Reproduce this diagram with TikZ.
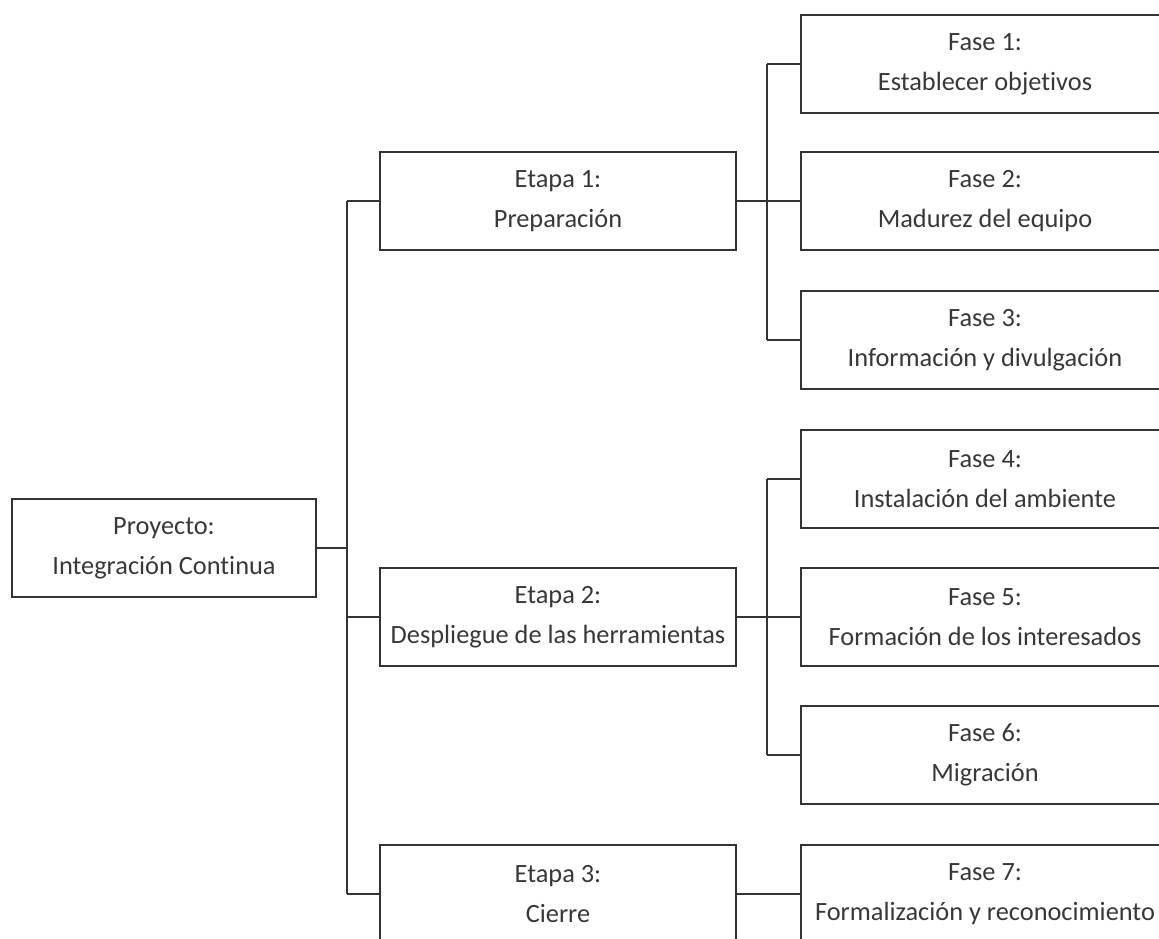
\documentclass[tikz,border=0pt]{standalone}
\usepackage{fontspec}
\setmainfont[Ligatures=NoCommon]{Carlito}
\usepackage{tikz}
\usetikzlibrary{positioning}

\begin{document}
\begin{tikzpicture}[%スタイル
          x=0.02cm,y=-0.02cm,
          caja/.style={
              draw=black!80,
              line width=1.1pt,
              fill=white,
              align=center,
              inner sep=0pt,
              minimum height=1.96cm,
              text=black!78,
              font=\fontsize{15}{22.7}\selectfont
            },proy/.style={
              caja,
              minimum width=6.08cm
            },etapa/.style={
              caja,
              minimum width=7.12cm
            },fase/.style={
              caja,
              minimum width=7.36cm
            },linea/.style={
              draw=black!80,
              line width=1.1pt
            }
        ]

        % 描画範囲
        \clip (0,0) rectangle (1159,938);

        % 座標の定義
        \coordinate (tronco) at (347,0);
        \coordinate (rama1) at (767,0);
        \coordinate (rama2) at (767,0);

        % プロジェクト
        \node[proy] (proyecto) at (164,548) {Proyecto:\\Integración Continua};

        % 段階
        \node[etapa] (etapa1) at (558,201) {Etapa 1:\\Preparación};
        \node[etapa] (etapa2) at (558,617) {Etapa 2:\\Despliegue de las herramientas};
        \node[etapa] (etapa3) at (558,894) {Etapa 3:\\Cierre};

        % 局面
        \node[fase] (fase1) at (985,64) {Fase 1:\\Establecer objetivos};
        \node[fase] (fase2) at (985,201) {Fase 2:\\Madurez del equipo};
        \node[fase] (fase3) at (985,340) {Fase 3:\\Información y divulgación};
        \node[fase] (fase4) at (985,479) {Fase 4:\\Instalación del ambiente};
        \node[fase] (fase5) at (985,617) {Fase 5:\\Formación de los interesados};
        \node[fase] (fase6) at (985,755) {Fase 6:\\Migración};
        \node[fase] (fase7) at (985,894) {Fase 7:\\Formalización y reconocimiento};

        % 幹
        \draw[linea] (proyecto.east) -- (proyecto.east -| tronco);
        \draw[linea] (tronco |- etapa1.west) -- (tronco |- etapa3.west);
        \foreach \e in {etapa1,etapa2,etapa3}
          \draw[linea] (tronco |- \e.west) -- (\e.west);

        % 枝1
        \draw[linea] (etapa1.east) -- (fase2.west);
        \draw[linea] (rama1 |- fase1.west) -- (rama1 |- fase3.west);
        \foreach \f in {fase1,fase3}
          \draw[linea] (rama1 |- \f.west) -- (\f.west);

        % 枝2
        \draw[linea] (etapa2.east) -- (fase5.west);
        \draw[linea] (rama2 |- fase4.west) -- (rama2 |- fase6.west);
        \foreach \f in {fase4,fase6}
          \draw[linea] (rama2 |- \f.west) -- (\f.west);

        % 枝3
        \draw[linea] (etapa3.east) -- (fase7.west);
      \end{tikzpicture}
\end{document}
